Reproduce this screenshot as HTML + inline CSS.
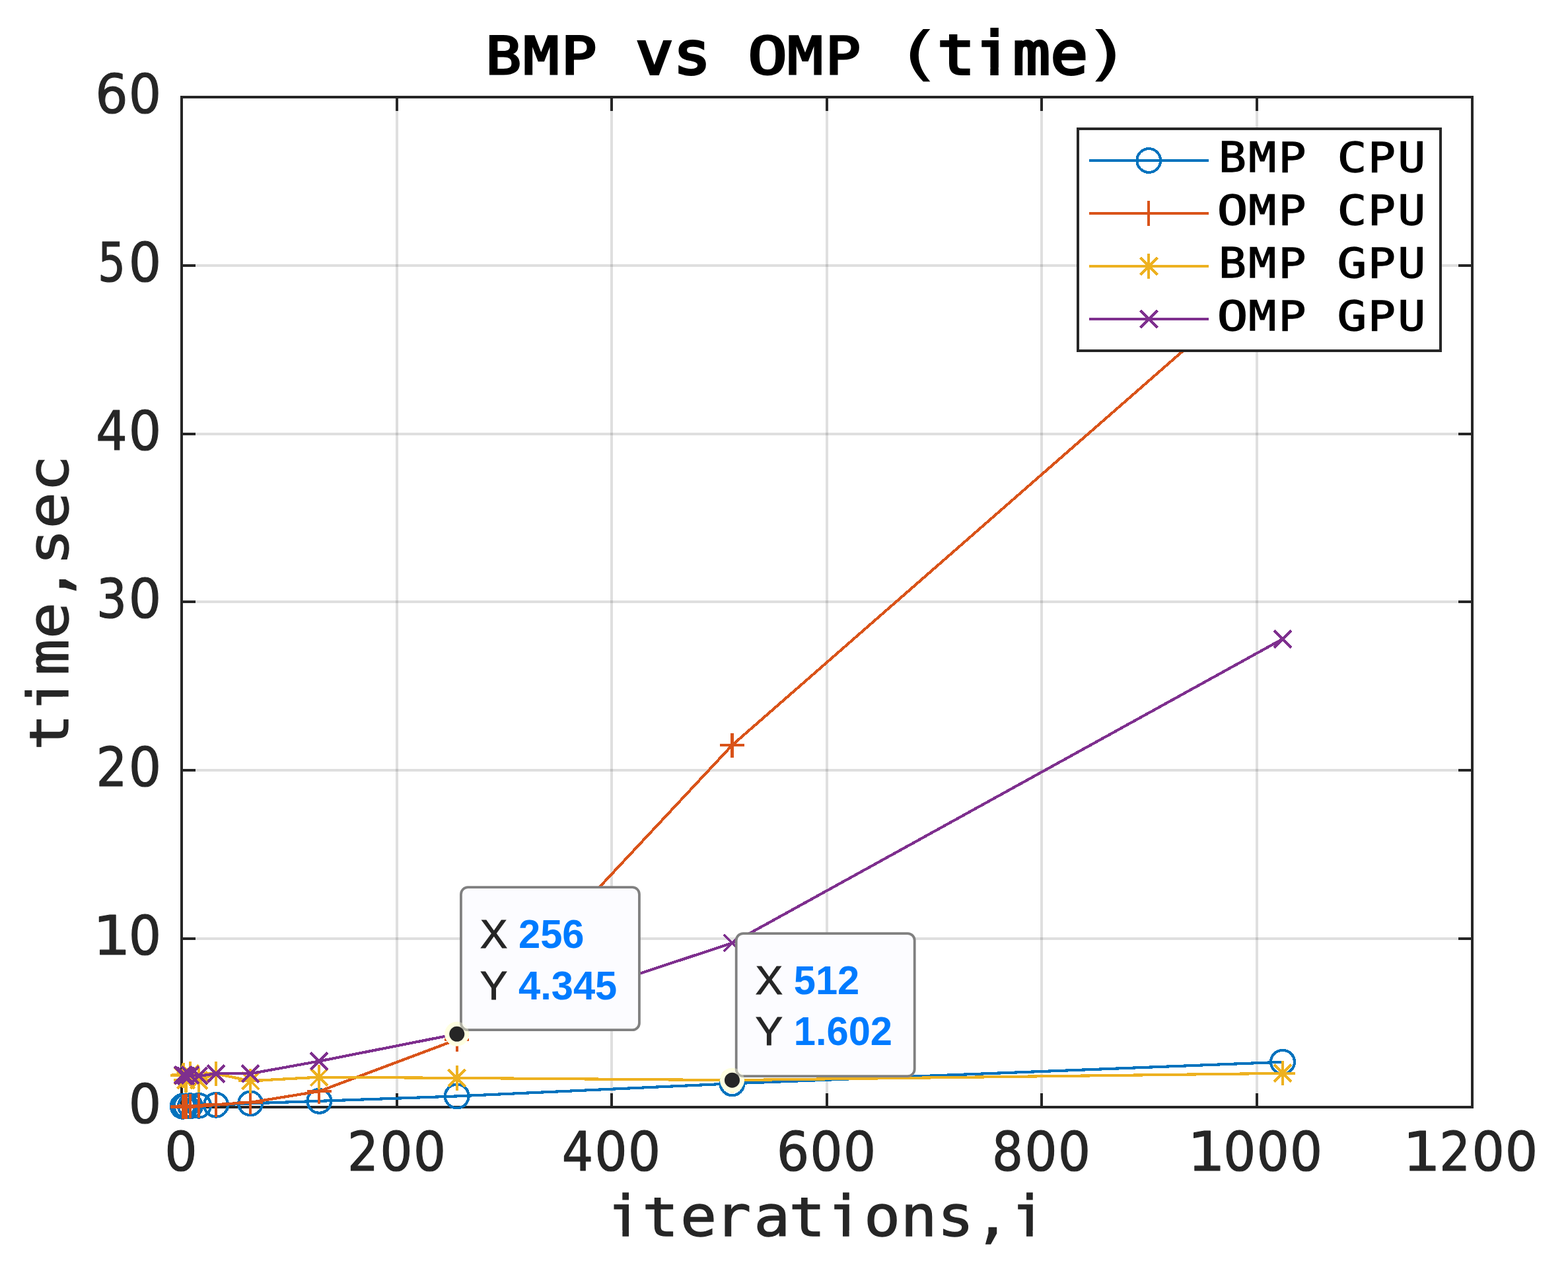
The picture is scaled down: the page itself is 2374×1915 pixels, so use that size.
<!DOCTYPE html>
<html lang="en"><head><meta charset="utf-8"><title>BMP vs OMP (time)</title>
<style>
html,body{margin:0;padding:0;background:#fff;}
body{width:2374px;height:1915px;overflow:hidden;}
svg{display:block;}
.mono{font-family:"DejaVu Sans Mono","Liberation Mono",monospace;}
.dig{font-family:"DejaVu Sans","Liberation Sans",sans-serif;}
.tip{font-family:"Liberation Sans",sans-serif;}
</style></head><body>
<svg width="2374" height="1915" viewBox="0 0 2374 1915">
<rect x="0" y="0" width="2374" height="1915" fill="#ffffff"/>
<g stroke="#262626" stroke-opacity="0.15" stroke-width="4" fill="none">
<line x1="601" y1="147" x2="601" y2="1676"/>
<line x1="926" y1="147" x2="926" y2="1676"/>
<line x1="1252" y1="147" x2="1252" y2="1676"/>
<line x1="1577" y1="147" x2="1577" y2="1676"/>
<line x1="1903" y1="147" x2="1903" y2="1676"/>
<line x1="275" y1="1421" x2="2229" y2="1421"/>
<line x1="275" y1="1166" x2="2229" y2="1166"/>
<line x1="275" y1="911" x2="2229" y2="911"/>
<line x1="275" y1="657" x2="2229" y2="657"/>
<line x1="275" y1="402" x2="2229" y2="402"/>
</g>
<g stroke="#262626" stroke-width="4" fill="none" stroke-linecap="butt">
<rect x="275" y="147" width="1954" height="1529"/>
<path d="M601 1676V1655M601 147V168M926 1676V1655M926 147V168M1252 1676V1655M1252 147V168M1577 1676V1655M1577 147V168M1903 1676V1655M1903 147V168M275 1421H296M2229 1421H2208M275 1166H296M2229 1166H2208M275 911H296M2229 911H2208M275 657H296M2229 657H2208M275 402H296M2229 402H2208"/>
</g>
<g stroke="#0072bd" stroke-width="4.17" fill="none" stroke-linejoin="round" shape-rendering="crispEdges">
<polyline points="276.63,1674.73 278.26,1674.6 281.51,1674.47 288.02,1674.22 301.05,1673.71 327.09,1672.69 379.19,1670.39 483.37,1666.83 691.75,1659.44 1108.49,1640.32 1941.99,1607.7"/>
<circle cx="276.63" cy="1674.73" r="17.9"/>
<circle cx="278.26" cy="1674.6" r="17.9"/>
<circle cx="281.51" cy="1674.47" r="17.9"/>
<circle cx="288.02" cy="1674.22" r="17.9"/>
<circle cx="301.05" cy="1673.71" r="17.9"/>
<circle cx="327.09" cy="1672.69" r="17.9"/>
<circle cx="379.19" cy="1670.39" r="17.9"/>
<circle cx="483.37" cy="1666.83" r="17.9"/>
<circle cx="691.75" cy="1659.44" r="17.9"/>
<circle cx="1108.49" cy="1640.32" r="17.9"/>
<circle cx="1941.99" cy="1607.7" r="17.9"/>
</g>
<g stroke="#d95319" stroke-width="4.17" fill="none" stroke-linejoin="round" shape-rendering="crispEdges">
<polyline points="276.63,1675.49 278.26,1675.24 281.51,1674.98 288.02,1674.47 301.05,1673.71 327.09,1672.18 379.19,1668.86 483.37,1652.05 691.75,1573.81 1108.49,1128.11 1941.99,399.28"/>
<path stroke-linecap="butt" d="M258.03 1675.49H295.23M276.63 1656.89V1694.09M259.66 1675.24H296.86M278.26 1656.64V1693.84M262.91 1674.98H300.11M281.51 1656.38V1693.58M269.42 1674.47H306.62M288.02 1655.87V1693.07M282.45 1673.71H319.65M301.05 1655.11V1692.31M308.49 1672.18H345.69M327.09 1653.58V1690.78M360.59 1668.86H397.79M379.19 1650.26V1687.46M464.77 1652.05H501.97M483.37 1633.45V1670.65M673.15 1573.81H710.35M691.75 1555.21V1592.41M1089.89 1128.11H1127.09M1108.49 1109.51V1146.71M1923.39 399.28H1960.59M1941.99 380.68V417.88"/>
</g>
<g stroke="#edb120" stroke-width="4.17" fill="none" stroke-linejoin="round" shape-rendering="crispEdges">
<polyline points="276.63,1628.35 278.26,1627.58 281.51,1635.23 288.02,1625.54 301.05,1635.23 327.09,1625.54 379.19,1636.25 483.37,1630.64 691.75,1631.91 1108.49,1635.18 1941.99,1624.78"/>
<path stroke-linecap="butt" d="M258.03 1628.35H295.23M276.63 1609.75V1646.95M263.73 1615.45L289.53 1641.25M263.73 1641.25L289.53 1615.45M259.66 1627.58H296.86M278.26 1608.98V1646.18M265.36 1614.68L291.16 1640.48M265.36 1640.48L291.16 1614.68M262.91 1635.23H300.11M281.51 1616.63V1653.83M268.61 1622.33L294.41 1648.13M268.61 1648.13L294.41 1622.33M269.42 1625.54H306.62M288.02 1606.94V1644.14M275.12 1612.64L300.92 1638.44M275.12 1638.44L300.92 1612.64M282.45 1635.23H319.65M301.05 1616.63V1653.83M288.15 1622.33L313.95 1648.13M288.15 1648.13L313.95 1622.33M308.49 1625.54H345.69M327.09 1606.94V1644.14M314.19 1612.64L339.99 1638.44M314.19 1638.44L339.99 1612.64M360.59 1636.25H397.79M379.19 1617.65V1654.85M366.29 1623.35L392.09 1649.15M366.29 1649.15L392.09 1623.35M464.77 1630.64H501.97M483.37 1612.04V1649.24M470.47 1617.74L496.27 1643.54M470.47 1643.54L496.27 1617.74M673.15 1631.91H710.35M691.75 1613.31V1650.51M678.85 1619.01L704.65 1644.81M678.85 1644.81L704.65 1619.01M1089.89 1635.18H1127.09M1108.49 1616.58V1653.78M1095.59 1622.28L1121.39 1648.08M1095.59 1648.08L1121.39 1622.28M1923.39 1624.78H1960.59M1941.99 1606.18V1643.38M1929.09 1611.88L1954.89 1637.68M1929.09 1637.68L1954.89 1611.88"/>
</g>
<g stroke="#7e2f8e" stroke-width="4.17" fill="none" stroke-linejoin="round" shape-rendering="crispEdges">
<polyline points="276.63,1627.58 278.26,1627.58 281.51,1628.6 288.02,1627.58 301.05,1628.86 327.09,1625.29 379.19,1625.29 483.37,1606.43 691.75,1565.27 1108.49,1427.54 1941.99,967.31"/>
<path stroke-linecap="butt" d="M263.73 1614.68L289.53 1640.48M263.73 1640.48L289.53 1614.68M265.36 1614.68L291.16 1640.48M265.36 1640.48L291.16 1614.68M268.61 1615.7L294.41 1641.5M268.61 1641.5L294.41 1615.7M275.12 1614.68L300.92 1640.48M275.12 1640.48L300.92 1614.68M288.15 1615.96L313.95 1641.76M288.15 1641.76L313.95 1615.96M314.19 1612.39L339.99 1638.19M314.19 1638.19L339.99 1612.39M366.29 1612.39L392.09 1638.19M366.29 1638.19L392.09 1612.39M470.47 1593.53L496.27 1619.33M470.47 1619.33L496.27 1593.53M678.85 1552.37L704.65 1578.17M678.85 1578.17L704.65 1552.37M1095.59 1414.64L1121.39 1440.44M1095.59 1440.44L1121.39 1414.64M1929.09 954.41L1954.89 980.21M1929.09 980.21L1954.89 954.41"/>
</g>
<g class="dig" font-size="81.9" fill="#262626" stroke="#262626" stroke-width="1.2" stroke-linejoin="round">
<text transform="translate(248.8 1772.3) scale(0.95 1)" x="0.48" y="0">0</text>
<text transform="translate(524.4 1772.3) scale(0.95 1)" y="0"><tspan x="1.78" textLength="49.48" lengthAdjust="spacingAndGlyphs">2</tspan><tspan x="53.53 106.59">00</tspan></text>
<text transform="translate(849.4 1772.3) scale(0.95 1)" y="0"><tspan x="1.52" textLength="50" lengthAdjust="spacingAndGlyphs">4</tspan><tspan x="53.53 106.59">00</tspan></text>
<text transform="translate(1175.4 1772.3) scale(0.95 1)" x="0.48 53.53 106.59" y="0">600</text>
<text transform="translate(1500.4 1772.3) scale(0.95 1)" y="0"><tspan x="1.78" textLength="49.48" lengthAdjust="spacingAndGlyphs">8</tspan><tspan x="53.53 106.59">00</tspan></text>
<text transform="translate(1801.2 1772.3) scale(0.95 1)" y="0"><tspan x="-3.68" textLength="60.42" lengthAdjust="spacingAndGlyphs">1</tspan><tspan x="53.53 106.59 159.64">000</tspan></text>
<text transform="translate(2127.2 1772.3) scale(0.95 1)" y="0"><tspan x="-3.68" textLength="60.42" lengthAdjust="spacingAndGlyphs">1</tspan><tspan x="54.84" textLength="49.48" lengthAdjust="spacingAndGlyphs">2</tspan><tspan x="106.59 159.64">00</tspan></text>
<text transform="translate(194.3 1700.3) scale(0.95 1)" x="0.48" y="0">0</text>
<text transform="translate(143.9 1445.3) scale(0.95 1)" y="0"><tspan x="-3.68" textLength="60.42" lengthAdjust="spacingAndGlyphs">1</tspan><tspan x="53.53">0</tspan></text>
<text transform="translate(143.9 1190.3) scale(0.95 1)" y="0"><tspan x="1.78" textLength="49.48" lengthAdjust="spacingAndGlyphs">2</tspan><tspan x="53.53">0</tspan></text>
<text transform="translate(143.9 935.3) scale(0.95 1)" y="0"><tspan x="2.31" textLength="48.44" lengthAdjust="spacingAndGlyphs">3</tspan><tspan x="53.53">0</tspan></text>
<text transform="translate(143.9 681.3) scale(0.95 1)" y="0"><tspan x="1.52" textLength="50" lengthAdjust="spacingAndGlyphs">4</tspan><tspan x="53.53">0</tspan></text>
<text transform="translate(143.9 426.3) scale(0.95 1)" y="0"><tspan x="4.39" textLength="44.28" lengthAdjust="spacingAndGlyphs">5</tspan><tspan x="53.53">0</tspan></text>
<text transform="translate(143.9 171.3) scale(0.95 1)" x="0.48 53.53" y="0">60</text>
</g>
<text class="mono" transform="translate(918.6 1871) scale(1 0.925)" x="0.21 53.61 111.41 163.51 222.61 276.01 333.81 389.41 445.01 500.61 556.21 611.81" y="0" font-size="91.67" fill="#262626" stroke="#262626" stroke-width="1.4" vector-effect="non-scaling-stroke">iterations,i</text>
<path transform="translate(918.6 1871) scale(1 0.925)" fill="#ffffff" d="M5.97 -8.76H23.81V2.76H5.97ZM33.45 -8.76H51.29V2.76H33.45ZM70.65 -69.12H83.29V-62.61H70.65ZM293.05 -69.12H305.69V-62.61H293.05ZM339.57 -8.76H357.41V2.76H339.57ZM367.05 -8.76H384.89V2.76H367.05ZM617.57 -8.76H635.41V2.76H617.57ZM645.05 -8.76H662.89V2.76H645.05Z"/>
<g transform="translate(103.1 1134) rotate(-90)">
<text class="mono" transform="translate(0 0) scale(1 0.925)" x="-1.99 55.81 111.41 167.01 222.61 278.21 333.81 389.41" y="0" font-size="91.67" fill="#262626" stroke="#262626" stroke-width="1.4" vector-effect="non-scaling-stroke">time,sec</text>
<path transform="translate(0 0) scale(1 0.925)" fill="#ffffff" d="M15.05 -69.12H27.69V-62.61H15.05ZM61.57 -8.76H79.41V2.76H61.57ZM89.05 -8.76H106.89V2.76H89.05Z"/>
</g>
<text class="mono" transform="translate(733.85 112) scale(0.95 0.84)" x="1.76 61.86 121.97" y="0" font-size="94" fill="#000000" stroke="#000000" stroke-width="3.4" vector-effect="non-scaling-stroke">BMP</text>
<text class="mono" transform="translate(962.25 112) scale(1 0.95)" x="0.26 57.36" y="0" font-size="94" fill="#000000" stroke="#000000" stroke-width="4" vector-effect="non-scaling-stroke">vs</text>
<text class="mono" transform="translate(1133.55 112) scale(0.95 0.84)" y="0" font-size="94" fill="#000000" stroke="#000000" stroke-width="3.4" vector-effect="non-scaling-stroke"><tspan x="-1.64" textLength="63.38" lengthAdjust="spacingAndGlyphs">O</tspan><tspan x="61.86 121.97">MP</tspan></text>
<text class="mono" transform="translate(1361.95 112) scale(1 0.95)" y="0" font-size="94" fill="#000000" stroke="#000000" stroke-width="4" vector-effect="non-scaling-stroke"><tspan x="-12.48" textLength="82.05" lengthAdjust="spacingAndGlyphs" stroke="none">(</tspan><tspan x="57.36 114.46 171.56 228.66">time</tspan><tspan x="273.02" textLength="82.05" lengthAdjust="spacingAndGlyphs" stroke="none">)</tspan></text>
<path transform="translate(1361.95 112) scale(1 0.95)" fill="#ffffff" d="M73.59 -72.11H89.04V-63.17H73.59ZM119.13 -10.27H137.38V4.11H119.13ZM149.82 -10.27H168.08V4.11H149.82Z"/>
<rect x="1632" y="195" width="549" height="336" fill="#ffffff" stroke="#262626" stroke-width="4"/>
<g stroke="#0072bd" stroke-width="4" fill="none" shape-rendering="crispEdges">
<line x1="1649" y1="243" x2="1830" y2="243"/>
<circle cx="1739.3" cy="243" r="17.9"/>
</g>
<text class="mono" transform="translate(1843.5 260.4) scale(0.93 0.83)" y="0" font-size="75" fill="#000000" stroke="#000000" stroke-width="1.6" vector-effect="non-scaling-stroke"><tspan x="1.72 50.31 98.9 147.49">BMP </tspan><tspan x="194.51" textLength="48.31" lengthAdjust="spacingAndGlyphs">C</tspan><tspan x="244.68 293.27">PU</tspan></text>
<g stroke="#d95319" stroke-width="4" fill="none" shape-rendering="crispEdges">
<line x1="1649" y1="323" x2="1830" y2="323"/>
<path stroke-linecap="butt" d="M1739.3 304.4V341.6"/>
</g>
<text class="mono" transform="translate(1843.5 340.4) scale(0.93 0.83)" y="0" font-size="75" fill="#000000" stroke="#000000" stroke-width="1.6" vector-effect="non-scaling-stroke"><tspan x="-0.99" textLength="50.57" lengthAdjust="spacingAndGlyphs">O</tspan><tspan x="50.31 98.9 147.49">MP </tspan><tspan x="194.51" textLength="48.31" lengthAdjust="spacingAndGlyphs">C</tspan><tspan x="244.68 293.27">PU</tspan></text>
<g stroke="#edb120" stroke-width="4" fill="none" shape-rendering="crispEdges">
<line x1="1649" y1="403" x2="1830" y2="403"/>
<path stroke-linecap="butt" d="M1739.3 384.4V421.6M1726.4 390.1L1752.2 415.9M1726.4 415.9L1752.2 390.1"/>
</g>
<text class="mono" transform="translate(1843.5 420.4) scale(0.93 0.83)" y="0" font-size="75" fill="#000000" stroke="#000000" stroke-width="1.6" vector-effect="non-scaling-stroke"><tspan x="1.72 50.31 98.9 147.49">BMP </tspan><tspan x="194.51" textLength="48.31" lengthAdjust="spacingAndGlyphs">G</tspan><tspan x="244.68 293.27">PU</tspan></text>
<g stroke="#7e2f8e" stroke-width="4" fill="none" shape-rendering="crispEdges">
<line x1="1649" y1="483" x2="1830" y2="483"/>
<path stroke-linecap="butt" d="M1726.4 470.1L1752.2 495.9M1726.4 495.9L1752.2 470.1"/>
</g>
<text class="mono" transform="translate(1843.5 500.4) scale(0.93 0.83)" y="0" font-size="75" fill="#000000" stroke="#000000" stroke-width="1.6" vector-effect="non-scaling-stroke"><tspan x="-0.99" textLength="50.57" lengthAdjust="spacingAndGlyphs">O</tspan><tspan x="50.31 98.9 147.49">MP </tspan><tspan x="194.51" textLength="48.31" lengthAdjust="spacingAndGlyphs">G</tspan><tspan x="244.68 293.27">PU</tspan></text>
<circle cx="691.75" cy="1565.27" r="18.5" fill="#ffffe1"/>
<rect x="697.95" y="1343.17" width="270" height="216" rx="10.5" ry="10.5" fill="#fcfcff" stroke="#808080" stroke-width="3.8"/>
<text class="tip" x="726.95" y="1434.87" font-size="61.8" fill="#262626" stroke="#262626" stroke-width="1.1">X <tspan x="784.95" font-size="61.3" font-weight="bold" fill="#007bff" stroke="none" textLength="99.58" lengthAdjust="spacingAndGlyphs">256</tspan></text>
<text class="tip" x="726.95" y="1512.57" font-size="61.8" fill="#262626" stroke="#262626" stroke-width="1.1">Y <tspan x="784.95" font-size="61.3" font-weight="bold" fill="#007bff" stroke="none" textLength="149.37" lengthAdjust="spacingAndGlyphs">4.345</tspan></text>
<circle cx="691.75" cy="1565.27" r="18.5" fill="#ffffe1" fill-opacity="0.4"/>
<circle cx="691.75" cy="1565.27" r="11.5" fill="#262626"/>
<circle cx="1108.49" cy="1635.18" r="18.5" fill="#ffffe1"/>
<rect x="1114.69" y="1413.08" width="270" height="216" rx="10.5" ry="10.5" fill="#fcfcff" stroke="#808080" stroke-width="3.8"/>
<text class="tip" x="1143.69" y="1504.78" font-size="61.8" fill="#262626" stroke="#262626" stroke-width="1.1">X <tspan x="1201.69" font-size="61.3" font-weight="bold" fill="#007bff" stroke="none" textLength="99.58" lengthAdjust="spacingAndGlyphs">512</tspan></text>
<text class="tip" x="1143.69" y="1582.48" font-size="61.8" fill="#262626" stroke="#262626" stroke-width="1.1">Y <tspan x="1201.69" font-size="61.3" font-weight="bold" fill="#007bff" stroke="none" textLength="149.37" lengthAdjust="spacingAndGlyphs">1.602</tspan></text>
<circle cx="1108.49" cy="1635.18" r="18.5" fill="#ffffe1" fill-opacity="0.4"/>
<circle cx="1108.49" cy="1635.18" r="11.5" fill="#262626"/>
</svg>
</body></html>
